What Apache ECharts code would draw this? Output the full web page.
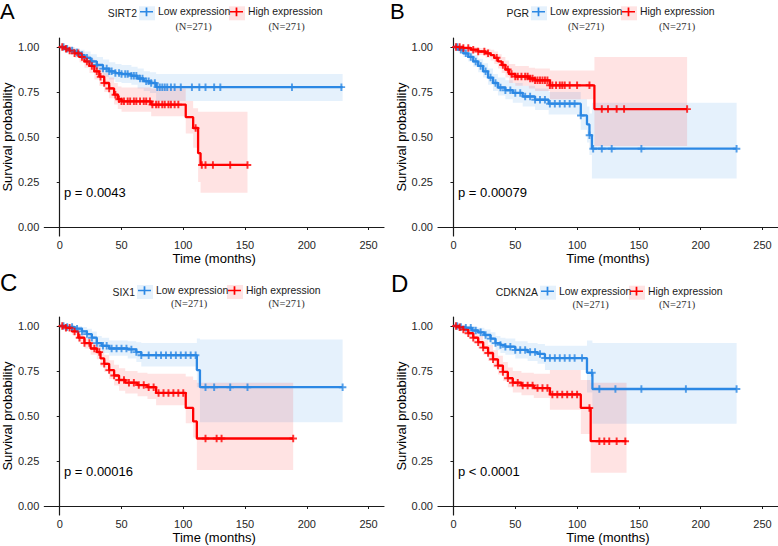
<!DOCTYPE html>
<html>
<head>
<meta charset="utf-8">
<script src="https://cdn.jsdelivr.net/npm/echarts@6/dist/echarts.min.js"></script>
<style>html,body{margin:0;padding:0;background:#fff;}#c{width:778px;height:546px;}</style>
</head>
<body>
<div id="c"></div>
<script>
// ---- tick labels ----
const xTicks = [0, 50, 100, 150, 200, 250];
const yTicks = [0, 0.25, 0.5, 0.75, 1];
const groupNames = ['Low expression', 'High expression'];
const genes = ['SIRT2', 'PGR', 'SIX1', 'CDKN2A'];
const panelLetters = ['A', 'B', 'C', 'D'];
const pValues = ['p = 0.0043', 'p = 0.00079', 'p = 0.00016', 'p < 0.0001'];
const groupN = ['(N=271)', '(N=271)'];

// ---- Panel A: SIRT2 ----
const A_low_time  = [0,4,8,12,16,20,25,30,35,40,45,50,58,63,68,73,78,229];
const A_low_surv  = [1,0.99,0.98,0.97,0.955,0.94,0.92,0.90,0.88,0.865,0.855,0.85,0.84,0.825,0.81,0.80,0.777,0.777];
const A_low_lower = [1,0.98,0.965,0.95,0.93,0.91,0.885,0.86,0.835,0.82,0.805,0.80,0.79,0.77,0.755,0.745,0.70,0.70];
const A_low_upper = [1,1,1,0.995,0.985,0.975,0.96,0.945,0.93,0.915,0.905,0.90,0.89,0.88,0.865,0.86,0.85,0.85];
const A_low_censor = [3,6,10,14,18,22,26,30,35,38,40,42,45,48,50,53,55,58,60,62,65,67,70,72,74,77,79,81,83,85,87,90,93,98,107,113,118,125,130,188,228];
const A_high_time  = [0,4,8,12,16,20,24,28,32,36,40,44,47,50,74,102,108,112,114,152];
const A_high_surv  = [1,0.99,0.98,0.965,0.945,0.92,0.895,0.865,0.835,0.80,0.77,0.735,0.71,0.698,0.68,0.61,0.55,0.41,0.345,0.345];
const A_high_lower = [1,0.978,0.96,0.94,0.915,0.885,0.855,0.82,0.785,0.75,0.715,0.68,0.655,0.64,0.615,0.52,0.44,0.25,0.19,0.19];
const A_high_upper = [1,1,0.998,0.99,0.975,0.955,0.935,0.91,0.885,0.855,0.83,0.80,0.78,0.775,0.77,0.70,0.66,0.64,0.64,0.64];
const A_high_censor = [2,5,8,12,15,18,22,26,30,33,36,40,45,48,50,52,55,57,60,62,65,68,70,73,75,78,80,83,85,88,90,93,96,110,115,118,124,138,152];

// ---- Panel B: PGR ----
const B_low_time  = [0,4,8,12,16,20,24,28,32,36,42,48,56,66,77,103,108,110,112,229];
const B_low_surv  = [1,0.985,0.965,0.945,0.92,0.895,0.865,0.83,0.80,0.775,0.76,0.745,0.725,0.707,0.685,0.62,0.57,0.51,0.435,0.435];
const B_low_lower = [1,0.97,0.945,0.92,0.89,0.86,0.83,0.79,0.755,0.73,0.71,0.69,0.67,0.65,0.625,0.54,0.47,0.40,0.27,0.27];
const B_low_upper = [1,1,0.99,0.975,0.955,0.935,0.91,0.88,0.85,0.83,0.815,0.80,0.785,0.77,0.75,0.71,0.67,0.63,0.69,0.69];
const B_low_censor = [3,6,10,14,18,22,26,30,34,38,42,46,50,54,58,62,66,70,74,78,82,86,90,94,98,103,110,113,120,128,152,229];
const B_high_time  = [0,8,14,20,26,30,33,36,39,42,45,50,61,66,78,114,189];
const B_high_surv  = [1,0.995,0.985,0.975,0.965,0.955,0.94,0.92,0.90,0.875,0.85,0.836,0.825,0.815,0.787,0.655,0.655];
const B_high_lower = [1,0.985,0.97,0.955,0.94,0.925,0.905,0.88,0.855,0.83,0.80,0.785,0.77,0.755,0.71,0.45,0.45];
const B_high_upper = [1,1,1,0.995,0.99,0.985,0.975,0.96,0.945,0.925,0.905,0.895,0.885,0.88,0.87,0.945,0.945];
const B_high_censor = [2,5,8,12,16,20,25,28,35,40,44,47,50,52,55,58,60,62,64,66,68,70,72,74,76,78,80,83,86,88,90,94,100,110,120,125,132,138,189];

// ---- Panel C: SIX1 ----
const C_low_time  = [0,6,12,18,22,26,30,34,40,55,62,66,111,113.5,229];
const C_low_surv  = [1,0.995,0.985,0.97,0.955,0.935,0.905,0.89,0.875,0.87,0.855,0.838,0.755,0.66,0.66];
const C_low_lower = [1,0.985,0.97,0.95,0.93,0.905,0.87,0.85,0.835,0.82,0.80,0.775,0.66,0.465,0.465];
const C_low_upper = [1,1,1,0.995,0.985,0.97,0.945,0.935,0.92,0.915,0.91,0.905,0.93,0.925,0.925];
const C_low_censor = [3,6,10,14,18,22,26,30,35,38,42,46,50,54,58,62,66,72,78,82,86,90,94,98,102,106,110,118,125,138,152,229];
const C_high_time  = [0,5,10,15,20,25,30,33,36,40,44,48,53,63,71,78,102,108,111,189];
const C_high_surv  = [1,0.99,0.97,0.935,0.905,0.875,0.855,0.82,0.79,0.755,0.725,0.70,0.685,0.672,0.66,0.628,0.545,0.47,0.375,0.375];
const C_high_lower = [1,0.975,0.95,0.91,0.875,0.84,0.815,0.775,0.745,0.705,0.67,0.64,0.625,0.61,0.595,0.56,0.46,0.38,0.20,0.20];
const C_high_upper = [1,1,0.99,0.96,0.935,0.91,0.895,0.865,0.84,0.81,0.785,0.765,0.75,0.74,0.735,0.735,0.72,0.70,0.685,0.685];
const C_high_censor = [2,5,8,12,16,20,24,28,32,36,40,44,48,52,56,60,64,68,72,76,80,84,88,92,96,100,118,127,131,189];

// ---- Panel D: CDKN2A ----
const D_low_time  = [0,5,10,15,20,25,30,34,38,42,50,60,68,74,108,112.4,229];
const D_low_surv  = [1,0.995,0.99,0.975,0.965,0.95,0.93,0.905,0.895,0.885,0.867,0.855,0.845,0.822,0.74,0.65,0.65];
const D_low_lower = [1,0.985,0.975,0.955,0.94,0.92,0.895,0.865,0.85,0.84,0.82,0.805,0.79,0.755,0.63,0.457,0.457];
const D_low_upper = [1,1,1,0.995,0.99,0.98,0.965,0.945,0.935,0.93,0.915,0.905,0.90,0.89,0.92,0.905,0.905];
const D_low_censor = [3,6,10,14,18,22,26,30,34,38,42,46,50,54,58,62,66,70,74,78,82,86,90,94,98,104,112,118,131,152,188,229];
const D_high_time  = [0,4,8,12,16,20,24,28,32,36,40,44,48,55,65,78,103,111,140];
const D_high_surv  = [1,0.993,0.98,0.96,0.935,0.91,0.88,0.85,0.815,0.78,0.745,0.71,0.685,0.67,0.655,0.62,0.545,0.36,0.36];
const D_high_lower = [1,0.98,0.96,0.935,0.905,0.875,0.84,0.805,0.77,0.73,0.695,0.66,0.63,0.615,0.60,0.535,0.40,0.185,0.185];
const D_high_upper = [1,1,0.995,0.985,0.965,0.945,0.92,0.895,0.865,0.835,0.80,0.77,0.75,0.74,0.735,0.755,0.70,0.685,0.685];
const D_high_censor = [2,5,8,12,16,20,24,28,32,36,40,44,48,52,56,60,64,68,72,76,80,84,88,92,96,100,110,118,122,126,132,139];

// ---- assembly ----
const curves = [
  [{t:A_low_time,s:A_low_surv,lo:A_low_lower,hi:A_low_upper,c:A_low_censor},{t:A_high_time,s:A_high_surv,lo:A_high_lower,hi:A_high_upper,c:A_high_censor}],
  [{t:B_low_time,s:B_low_surv,lo:B_low_lower,hi:B_low_upper,c:B_low_censor},{t:B_high_time,s:B_high_surv,lo:B_high_lower,hi:B_high_upper,c:B_high_censor}],
  [{t:C_low_time,s:C_low_surv,lo:C_low_lower,hi:C_low_upper,c:C_low_censor},{t:C_high_time,s:C_high_surv,lo:C_high_lower,hi:C_high_upper,c:C_high_censor}],
  [{t:D_low_time,s:D_low_surv,lo:D_low_lower,hi:D_low_upper,c:D_low_censor},{t:D_high_time,s:D_high_surv,lo:D_high_lower,hi:D_high_upper,c:D_high_censor}]
];

const FONT = 'Liberation Sans, Arial, Helvetica, sans-serif';
const colors = ['#2C88E4', '#FF0000'];
const bandColors = ['rgba(44,136,228,0.12)', 'rgba(255,0,0,0.11)'];
const grids = [
  {left: 43, top: 38, width: 341, height: 198},
  {left: 438, top: 38, width: 340, height: 198},
  {left: 43, top: 317, width: 341, height: 198},
  {left: 438, top: 317, width: 340, height: 198}
];
const legendIconLeft = [[140, 230], [532, 622], [138, 228], [541, 630]];
const legendCenterY = [13.3, 13.3, 292, 292.7];
const nCenters = [[193.5, 286.5], [586, 677], [189, 286.5], [590.5, 677]];
const nCenterY = [26.7, 26.7, 303, 304];
const pPos = [[64, 192.7], [458, 192.7], [64, 471], [458, 471]];
const letterPos = [[0, 0, 'top', 22], [390, 0, 'top', 22], [0, 282.5, 'middle', 24], [391, 283.3, 'middle', 24]];

const plusPath = 'path://M3.7,0H6.3V3.7H10V6.3H6.3V10H3.7V6.3H0V3.7H3.7Z';
const legendIcon = 'path://M0,4.2H6.5V0H8.5V4.2H15V5.8H8.5V10H6.5V5.8H0Z';

function survAt(t, times, surv) {
  let v = surv[0];
  for (let i = 0; i < times.length; i++) { if (times[i] <= t) v = surv[i]; }
  return v;
}

function bandRenderer(cv, fill) {
  return function (params, api) {
    if (params.dataIndex !== 0) return null;
    const n = cv.t.length;
    const pts = [];
    for (let i = 0; i < n; i++) {
      pts.push(api.coord([cv.t[i], cv.hi[i]]));
      if (i < n - 1) pts.push(api.coord([cv.t[i + 1], cv.hi[i]]));
    }
    for (let i = n - 1; i >= 0; i--) {
      if (i < n - 1) pts.push(api.coord([cv.t[i + 1], cv.lo[i]]));
      pts.push(api.coord([cv.t[i], cv.lo[i]]));
    }
    return {type: 'polygon', shape: {points: pts}, style: {fill: fill}, silent: true};
  };
}

const series = [];
const legends = [];
const graphics = [];
curves.forEach((pair, pi) => {
  pair.forEach((cv, gi) => {
    series.push({
      type: 'custom', name: 'band' + pi + '_' + gi, xAxisIndex: pi, yAxisIndex: pi,
      silent: true, z: 1, clip: true,
      data: cv.t.map((t, i) => [t, cv.lo[i], cv.hi[i]]),
      encode: {x: 0, y: [1, 2]},
      renderItem: bandRenderer(cv, bandColors[gi])
    });
    series.push({
      type: 'line', name: groupNames[gi], xAxisIndex: pi, yAxisIndex: pi,
      step: 'end', symbol: 'none', z: 3,
      itemStyle: {color: colors[gi]},
      lineStyle: {color: colors[gi], width: 2.3},
      data: cv.t.map((t, i) => [t, cv.s[i]])
    });
    series.push({
      type: 'scatter', name: groupNames[gi] + ' censored ' + pi, xAxisIndex: pi, yAxisIndex: pi,
      symbol: plusPath, symbolSize: 7.5, z: 4, silent: true,
      itemStyle: {color: colors[gi]},
      data: cv.c.map(t => [t, survAt(t, cv.t, cv.s)])
    });
    legends.push({
      data: [groupNames[gi]], left: legendIconLeft[pi][gi], top: legendCenterY[pi] - 6.5,
      padding: 0, itemWidth: 13, itemHeight: 10, icon: legendIcon, selectedMode: false,
      textStyle: {fontSize: 10.4, color: '#1a1a1a', fontFamily: FONT}
    });
    graphics.push({
      type: 'rect', z: 0, silent: true,
      shape: {x: legendIconLeft[pi][gi] - 1, y: legendCenterY[pi] - 7, width: 16, height: 14},
      style: {fill: bandColors[gi]}
    });
    graphics.push({
      type: 'text', silent: true,
      style: {text: groupN[gi], x: nCenters[pi][gi], y: nCenterY[pi], textAlign: 'center', textVerticalAlign: 'middle',
        font: '10.5px "Liberation Serif", "DejaVu Serif", serif', fill: '#333'}
    });
  });
  graphics.push({
    type: 'text', silent: true,
    style: {text: genes[pi], x: legendIconLeft[pi][0] - 3, y: legendCenterY[pi], textAlign: 'right', textVerticalAlign: 'middle',
      font: '10.4px ' + FONT, fill: '#1a1a1a'}
  });
  graphics.push({
    type: 'text', silent: true,
    style: {text: pValues[pi], x: pPos[pi][0], y: pPos[pi][1], textAlign: 'left', textVerticalAlign: 'middle',
      font: '13px ' + FONT, fill: '#000'}
  });
  graphics.push({
    type: 'text', silent: true,
    style: {text: panelLetters[pi], x: letterPos[pi][0], y: letterPos[pi][1], textAlign: 'left',
      textVerticalAlign: letterPos[pi][2], font: letterPos[pi][3] + 'px ' + FONT, fill: '#000'}
  });
});

const xAxes = grids.map((g, i) => ({
  gridIndex: i, type: 'value', min: -12.5, max: 262.5,
  axisLine: {lineStyle: {color: '#1a1a1a', width: 1.2}},
  axisTick: {show: true, length: 3, customValues: xTicks, lineStyle: {color: '#1a1a1a'}},
  axisLabel: {customValues: xTicks, fontSize: 11, color: '#262626', margin: 3, fontFamily: FONT},
  splitLine: {show: false},
  name: 'Time (months)', nameLocation: 'middle', nameGap: 16,
  nameTextStyle: {fontSize: 13, color: '#000', fontFamily: FONT}
}));
const yAxes = grids.map((g, i) => ({
  gridIndex: i, type: 'value', min: -0.05, max: 1.05,
  axisLine: {show: true, lineStyle: {color: '#1a1a1a', width: 1.2}},
  axisTick: {show: true, length: 3, customValues: yTicks, lineStyle: {color: '#1a1a1a'}},
  axisLabel: {customValues: yTicks, fontSize: 11, color: '#262626', margin: 5, fontFamily: FONT,
    formatter: v => Number(v).toFixed(2)},
  splitLine: {show: false},
  name: 'Survival probability', nameLocation: 'middle', nameGap: 28,
  nameTextStyle: {fontSize: 13, color: '#000', fontFamily: FONT}
}));

const chart = echarts.init(document.getElementById('c'), null, {renderer: 'svg'});
chart.setOption({
  animation: false,
  backgroundColor: '#fff',
  textStyle: {fontFamily: FONT},
  grid: grids,
  xAxis: xAxes,
  yAxis: yAxes,
  legend: legends,
  graphic: graphics,
  series: series
});
</script>
</body>
</html>
